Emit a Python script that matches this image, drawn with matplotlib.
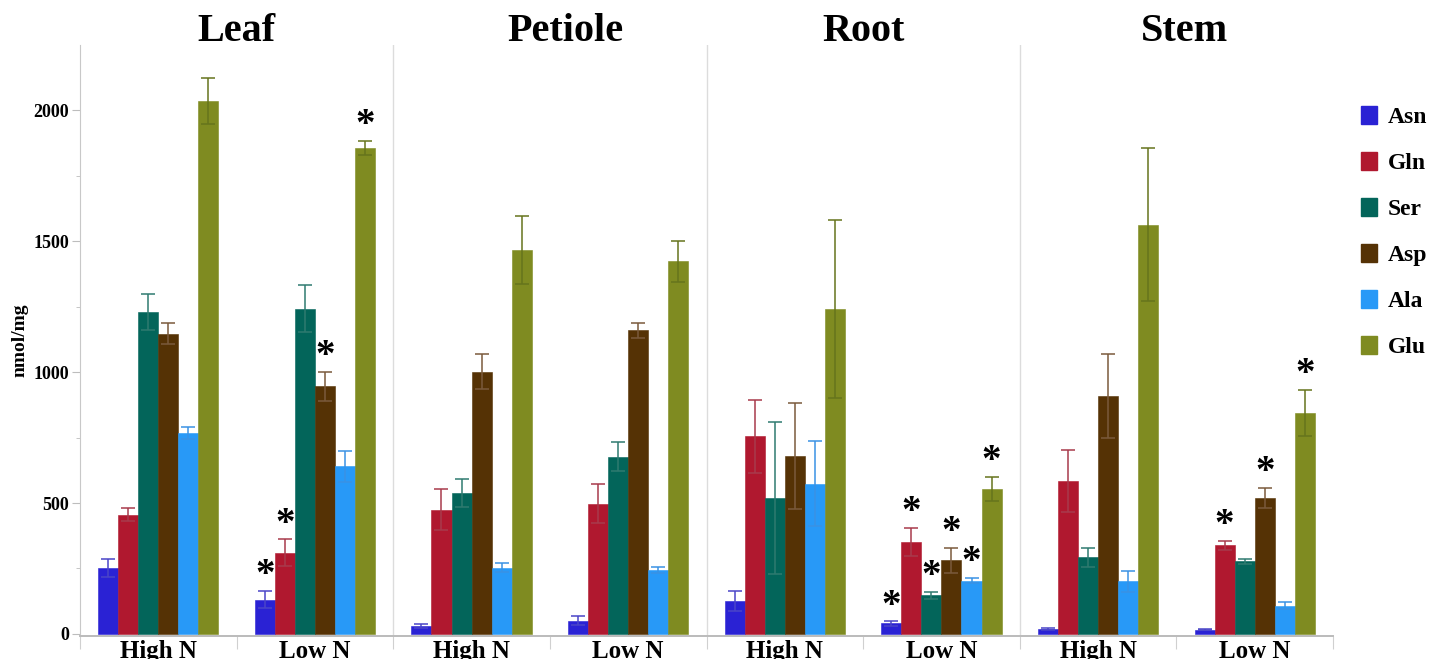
import matplotlib
matplotlib.use('Agg')
import matplotlib.pyplot as plt
from matplotlib.patches import Patch
import numpy as np

# --- Veriler (nmol/mg) ---
amino_acids = ['Asn', 'Gln', 'Ser', 'Asp', 'Ala', 'Glu']
organs = ['Leaf', 'Petiole', 'Root', 'Stem']
conditions = ['High N', 'Low N']

leaf_high = [252, 455, 1230, 1147, 768, 2035]
leaf_high_err = [35, 25, 67, 41, 24, 88]
leaf_low = [131, 311, 1243, 946, 640, 1856]
leaf_low_err = [33, 50, 91, 55, 58, 28]
leaf_sig = [1, 1, 0, 1, 0, 1]

petiole_high = [30, 475, 539, 1001, 253, 1466]
petiole_high_err = [6, 78, 53, 67, 18, 131]
petiole_low = [50, 497, 677, 1160, 244, 1423]
petiole_low_err = [17, 74, 56, 28, 13, 78]
petiole_sig = [0, 0, 0, 0, 0, 0]

root_high = [125, 755, 518, 680, 574, 1241]
root_high_err = [39, 140, 290, 204, 162, 340]
root_low = [40, 351, 148, 282, 204, 553]
root_low_err = [8, 55, 14, 48, 11, 47]
root_sig = [1, 1, 1, 1, 1, 1]

stem_high = [19, 584, 292, 909, 202, 1564]
stem_high_err = [3, 120, 37, 162, 40, 292]
stem_low = [16, 338, 277, 520, 107, 845]
stem_low_err = [2, 18, 10, 38, 13, 87]
stem_sig = [0, 1, 0, 1, 0, 1]

colors = ['#2a22d4', '#b0182f', '#03655a', '#553205', '#2899f7', '#7f8b21']
err_colors = ['#4a45c8', '#a83a4c', '#2f7a70', '#7a5a3c', '#3a92e4', '#66741c']

# Gruplar: her organ için High N ve Low N
groups = [leaf_high, leaf_low, petiole_high, petiole_low,
          root_high, root_low, stem_high, stem_low]
group_errs = [leaf_high_err, leaf_low_err, petiole_high_err, petiole_low_err,
              root_high_err, root_low_err, stem_high_err, stem_low_err]
group_sig = [None, leaf_sig, None, petiole_sig, None, root_sig, None, stem_sig]

plt.rcParams['font.family'] = ['Liberation Serif', 'DejaVu Serif']
plt.rcParams['font.weight'] = 'bold'

fig = plt.figure(figsize=(14.45, 6.59), dpi=100)
ax = fig.add_axes([80 / 1445, 23 / 659, 1253 / 1445, 591 / 659])

width = 0.128
x_centers = np.arange(len(groups)) + 0.5

for i, aa in enumerate(amino_acids):
    vals = [g[i] for g in groups]
    errs = [e[i] for e in group_errs]
    xs = x_centers + (i - 2.5) * width
    ax.bar(xs, vals, width, color=colors[i], edgecolor=colors[i], linewidth=0.4,
           label=aa, zorder=2)
    ax.errorbar(xs, vals, yerr=errs, fmt='none', ecolor=err_colors[i],
                elinewidth=1.1, capsize=5, capthick=1.1, zorder=3)

# Yıldızlar (anlamlı fark)
for gi, sig in enumerate(group_sig):
    if sig is None:
        continue
    for i, s in enumerate(sig):
        if s:
            xs = x_centers[gi] + (i - 2.5) * width
            top = groups[gi][i] + group_errs[gi][i]
            ax.annotate('*', (xs, top), xytext=(0, 11), textcoords='offset points',
                        ha='center', va='center', fontsize=28, fontweight='bold')

# Panel ayırıcılar
for xv in [2, 4, 6]:
    ax.axvline(xv, color='#dcdcdc', linewidth=1.0, zorder=1)

ax.set_xlim(0, 8)
ax.set_ylim(-8, 2250)

ax.set_yticks([0, 500, 1000, 1500, 2000])
ax.set_yticks(np.arange(250, 2250, 500), minor=True)
ax.tick_params(axis='y', which='major', length=6, color='#bdbdbd', labelsize=13, pad=2)
ax.tick_params(axis='y', which='minor', length=3, color='#bdbdbd')

ax.set_xticks(np.arange(0, 9))
ax.set_xticklabels([])
ax.set_xticks(x_centers, minor=True)
ax.set_xticklabels(conditions * 4, minor=True, fontsize=18)
ax.tick_params(axis='x', which='major', length=9, color='#d0d0d0')
ax.tick_params(axis='x', which='minor', length=0, pad=3)

for side in ['top', 'right']:
    ax.spines[side].set_visible(False)
ax.spines['left'].set_color('#c8c8c8')
ax.spines['bottom'].set_color('#bbbbbb')
ax.spines['bottom'].set_linewidth(1.4)

ax.set_ylabel('nmol/mg', fontsize=14, fontweight='bold', labelpad=3)

# Başlıklar
title_shift = [0, 0.1, 0, 0.05]
for k, organ in enumerate(organs):
    ax.text(2 * k + 1 + title_shift[k], 2265, organ, ha='center', va='baseline',
            fontsize=29, fontweight='bold', clip_on=False)

handles = [Patch(facecolor=c, edgecolor=c) for c in colors]
ax.legend(handles, amino_acids, loc='upper left',
          bbox_to_anchor=(1361 / 1445, 553 / 659), bbox_transform=fig.transFigure,
          frameon=False, fontsize=17, handlelength=0.68, handleheight=0.82,
          handletextpad=0.45, labelspacing=1.0, borderpad=0, borderaxespad=0)

plt.savefig('out.png', dpi=100)
